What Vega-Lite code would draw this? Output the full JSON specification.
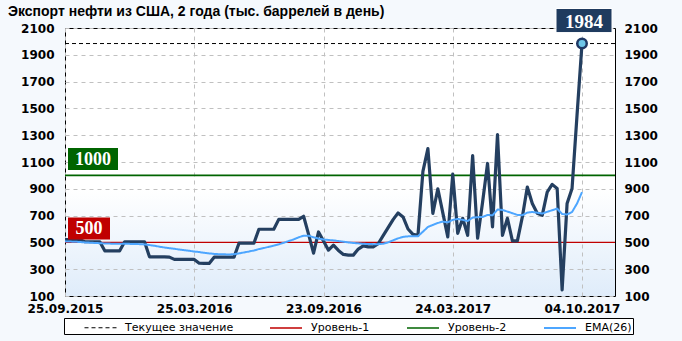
{
  "$schema": "https://vega.github.io/schema/vega-lite/v6.json",
  "width": 550,
  "height": 268,
  "autosize": {"type": "none"},
  "padding": {"left": 65, "top": 28, "right": 67, "bottom": 45},
  "background": "#f5f9fd",
  "title": {"text": "Экспорт нефти из США, 2 года (тыс. баррелей в день)", "anchor": "start", "frame": "group", "dx": -57, "dy": 21, "offset": 9, "font": "Liberation Sans", "fontSize": 14, "fontWeight": "bold", "color": "#000000"},
  "datasets": {
    "main": [
      {"d":"2015-09-25","exp":520,"ema":508},{"d":"2015-10-02","exp":520,"ema":506},{"d":"2015-10-09","exp":520,"ema":505},{"d":"2015-10-16","exp":520,"ema":503},{"d":"2015-10-23","exp":505,"ema":500},
      {"d":"2015-10-30","exp":505,"ema":498},{"d":"2015-11-06","exp":505,"ema":496},{"d":"2015-11-13","exp":505,"ema":494},{"d":"2015-11-20","exp":437,"ema":492},{"d":"2015-11-27","exp":437,"ema":491},
      {"d":"2015-12-04","exp":437,"ema":490},{"d":"2015-12-11","exp":437,"ema":489},{"d":"2015-12-18","exp":505,"ema":489},{"d":"2015-12-25","exp":505,"ema":489},{"d":"2016-01-01","exp":505,"ema":488},
      {"d":"2016-01-08","exp":505,"ema":487},{"d":"2016-01-15","exp":505,"ema":485},{"d":"2016-01-22","exp":392,"ema":480},{"d":"2016-01-29","exp":392,"ema":475},{"d":"2016-02-05","exp":392,"ema":468},
      {"d":"2016-02-12","exp":392,"ema":462},{"d":"2016-02-19","exp":390,"ema":457},{"d":"2016-02-26","exp":373,"ema":452},{"d":"2016-03-04","exp":373,"ema":447},{"d":"2016-03-11","exp":373,"ema":442},
      {"d":"2016-03-18","exp":373,"ema":437},{"d":"2016-03-25","exp":373,"ema":432},{"d":"2016-04-01","exp":345,"ema":428},{"d":"2016-04-08","exp":343,"ema":422},{"d":"2016-04-15","exp":343,"ema":418},
      {"d":"2016-04-22","exp":390,"ema":414},{"d":"2016-04-29","exp":390,"ema":412},{"d":"2016-05-06","exp":390,"ema":411},{"d":"2016-05-13","exp":390,"ema":410},{"d":"2016-05-20","exp":390,"ema":412},
      {"d":"2016-05-27","exp":494,"ema":418},{"d":"2016-06-03","exp":494,"ema":425},{"d":"2016-06-10","exp":494,"ema":432},{"d":"2016-06-17","exp":494,"ema":440},{"d":"2016-06-24","exp":598,"ema":450},
      {"d":"2016-07-01","exp":598,"ema":458},{"d":"2016-07-08","exp":598,"ema":467},{"d":"2016-07-15","exp":598,"ema":476},{"d":"2016-07-22","exp":672,"ema":486},{"d":"2016-07-29","exp":672,"ema":497},
      {"d":"2016-08-05","exp":672,"ema":510},{"d":"2016-08-12","exp":672,"ema":522},{"d":"2016-08-19","exp":672,"ema":538},{"d":"2016-08-26","exp":695,"ema":550},{"d":"2016-09-02","exp":560,"ema":550},
      {"d":"2016-09-09","exp":420,"ema":538},{"d":"2016-09-16","exp":578,"ema":528},{"d":"2016-09-23","exp":510,"ema":522},{"d":"2016-09-30","exp":442,"ema":518},{"d":"2016-10-07","exp":480,"ema":515},
      {"d":"2016-10-14","exp":440,"ema":510},{"d":"2016-10-21","exp":410,"ema":505},{"d":"2016-10-28","exp":405,"ema":500},{"d":"2016-11-04","exp":405,"ema":496},{"d":"2016-11-11","exp":450,"ema":493},
      {"d":"2016-11-18","exp":474,"ema":490},{"d":"2016-11-25","exp":467,"ema":488},{"d":"2016-12-02","exp":467,"ema":487},{"d":"2016-12-09","exp":490,"ema":487},{"d":"2016-12-16","exp":550,"ema":490},
      {"d":"2016-12-23","exp":610,"ema":500},{"d":"2016-12-30","exp":670,"ema":515},{"d":"2017-01-06","exp":720,"ema":530},{"d":"2017-01-13","exp":690,"ema":541},{"d":"2017-01-20","exp":600,"ema":545},
      {"d":"2017-01-27","exp":560,"ema":546},{"d":"2017-02-03","exp":553,"ema":546},{"d":"2017-02-10","exp":1030,"ema":580},{"d":"2017-02-17","exp":1200,"ema":615},{"d":"2017-02-24","exp":717,"ema":630},
      {"d":"2017-03-03","exp":900,"ema":645},{"d":"2017-03-10","exp":720,"ema":655},{"d":"2017-03-17","exp":541,"ema":650},{"d":"2017-03-24","exp":1010,"ema":668},{"d":"2017-03-31","exp":568,"ema":675},
      {"d":"2017-04-07","exp":680,"ema":668},{"d":"2017-04-14","exp":553,"ema":660},{"d":"2017-04-21","exp":1148,"ema":685},{"d":"2017-04-28","exp":531,"ema":688},{"d":"2017-05-05","exp":800,"ema":690},
      {"d":"2017-05-12","exp":1089,"ema":705},{"d":"2017-05-19","exp":615,"ema":702},{"d":"2017-05-26","exp":1304,"ema":745},{"d":"2017-06-02","exp":553,"ema":742},{"d":"2017-06-09","exp":680,"ema":730},
      {"d":"2017-06-16","exp":511,"ema":718},{"d":"2017-06-23","exp":511,"ema":705},{"d":"2017-06-30","exp":690,"ema":703},{"d":"2017-07-07","exp":913,"ema":722},{"d":"2017-07-14","exp":790,"ema":727},
      {"d":"2017-07-21","exp":717,"ema":722},{"d":"2017-07-28","exp":702,"ema":715},{"d":"2017-08-04","exp":875,"ema":728},{"d":"2017-08-11","exp":933,"ema":740},{"d":"2017-08-18","exp":903,"ema":752},
      {"d":"2017-08-25","exp":145,"ema":712},{"d":"2017-09-01","exp":791,"ema":708},{"d":"2017-09-08","exp":903,"ema":727},{"d":"2017-09-15","exp":1450,"ema":790},{"d":"2017-10-04","exp":1984,"ema":875}
    ],
    "levels": [
      {"series":"Текущее значение","val":1984},
      {"series":"Уровень-1","val":500},
      {"series":"Уровень-2","val":1000}
    ]
  },
  "layer": [
    {
      "data": {"name": "levels"},
      "mark": {"type": "rule"},
      "encoding": {
        "y": {"field": "val", "type": "quantitative", "scale": {"domain": [100, 2100], "nice": false, "zero": false},
              "axis": {"orient": "left", "values": [100,300,500,700,900,1100,1300,1500,1700,1900,2100], "format": "d", "grid": true, "labelPadding": 11}},
        "color": {"field": "series", "type": "nominal",
                  "scale": {"domain": ["Текущее значение","Уровень-1","Уровень-2","ema"], "range": ["#000000","#c00000","#006400","#4da6ff"]},
                  "legend": {"title": " ", "labelExpr": "datum.label == 'ema' ? 'EMA(26)      ' : datum.label"}},
        "strokeDash": {"field": "series", "type": "nominal",
                  "scale": {"domain": ["Текущее значение","Уровень-1","Уровень-2","ema"], "range": [[4,3],[1,0],[1,0],[1,0]]},
                  "legend": {"title": " ", "labelExpr": "datum.label == 'ema' ? 'EMA(26)      ' : datum.label"}},
        "strokeWidth": {"field": "series", "type": "nominal",
                  "scale": {"domain": ["Текущее значение","Уровень-1","Уровень-2","ema"], "range": [1,2,2,3.5]},
                  "legend": {"title": " ", "labelExpr": "datum.label == 'ema' ? 'EMA(26)      ' : datum.label"}}
      }
    },
    {
      "data": {"name": "main"},
      "mark": {"type": "line", "color": "#243f60", "strokeWidth": 3.2, "strokeJoin": "round"},
      "encoding": {
        "x": {"field": "d", "type": "ordinal", "scale": {"type": "point", "padding": 0, "range": [0, 517]},
              "axis": {"values": ["2015-09-25","2016-03-25","2016-09-23","2017-03-24","2017-10-04"], "grid": true, "labelAngle": 0, "labelOverlap": false, "labelPadding": 7,
                       "labelExpr": "slice(datum.value,8,10)+'.'+slice(datum.value,5,7)+'.'+slice(datum.value,0,4)"}},
        "y": {"field": "exp", "type": "quantitative", "scale": {"domain": [100, 2100], "nice": false, "zero": false},
              "axis": {"orient": "right", "values": [100,300,500,700,900,1100,1300,1500,1700,1900,2100], "format": "d", "grid": false, "labelPadding": 9, "labelAlign": "left"}}
      }
    },
    {
      "data": {"name": "main"},
      "transform": [{"fold": ["ema"], "as": ["series", "v"]}],
      "mark": {"type": "line", "strokeJoin": "round"},
      "encoding": {
        "x": {"field": "d", "type": "ordinal"},
        "y": {"field": "v", "type": "quantitative", "axis": null},
        "color": {"field": "series", "type": "nominal"},
        "strokeDash": {"field": "series", "type": "nominal"},
        "strokeWidth": {"field": "series", "type": "nominal"}
      }
    },
    {
      "data": {"name": "levels"},
      "transform": [{"filter": "datum.series == 'Уровень-1'"}],
      "mark": {"type": "point", "shape": "M-1,-0.524H1V0.524H-1Z", "filled": true, "opacity": 1, "color": "#c00000", "size": 1764, "xOffset": 24, "yOffset": -14},
      "encoding": {"x": {"datum": "2015-09-25", "type": "ordinal"}, "y": {"field": "val", "type": "quantitative", "axis": null}}
    },
    {
      "data": {"name": "levels"},
      "transform": [{"filter": "datum.series == 'Уровень-1'"}],
      "mark": {"type": "text", "font": "Liberation Serif", "fontWeight": "bold", "fontSize": 18, "color": "#ffffff", "align": "center", "baseline": "middle", "dx": 24, "dy": -13},
      "encoding": {"x": {"datum": "2015-09-25", "type": "ordinal"}, "y": {"field": "val", "type": "quantitative", "axis": null}, "text": {"field": "val"}}
    },
    {
      "data": {"name": "levels"},
      "transform": [{"filter": "datum.series == 'Уровень-2'"}],
      "mark": {"type": "point", "shape": "M-1,-0.44H1V0.44H-1Z", "filled": true, "opacity": 1, "color": "#006400", "size": 2500, "xOffset": 28, "yOffset": -16.5},
      "encoding": {"x": {"datum": "2015-09-25", "type": "ordinal"}, "y": {"field": "val", "type": "quantitative", "axis": null}}
    },
    {
      "data": {"name": "levels"},
      "transform": [{"filter": "datum.series == 'Уровень-2'"}],
      "mark": {"type": "text", "font": "Liberation Serif", "fontWeight": "bold", "fontSize": 18, "color": "#ffffff", "align": "center", "baseline": "middle", "dx": 28, "dy": -15.5},
      "encoding": {"x": {"datum": "2015-09-25", "type": "ordinal"}, "y": {"field": "val", "type": "quantitative", "axis": null}, "text": {"field": "val"}}
    },
    {
      "data": {"name": "levels"},
      "transform": [{"filter": "datum.series == 'Текущее значение'"}],
      "mark": {"type": "point", "shape": "M-1,-0.43H1V0.43H-1Z", "filled": true, "opacity": 1, "fill": "#1f3b5f", "stroke": "#ffffff", "strokeWidth": 1, "size": 3136, "xOffset": 2, "yOffset": -23},
      "encoding": {"x": {"datum": "2017-10-04", "type": "ordinal"}, "y": {"field": "val", "type": "quantitative", "axis": null}}
    },
    {
      "data": {"name": "levels"},
      "transform": [{"filter": "datum.series == 'Текущее значение'"}],
      "mark": {"type": "text", "font": "Liberation Serif", "fontWeight": "bold", "fontSize": 19, "color": "#ffffff", "align": "center", "baseline": "middle", "dx": 2, "dy": -22},
      "encoding": {"x": {"datum": "2017-10-04", "type": "ordinal"}, "y": {"field": "val", "type": "quantitative", "axis": null}, "text": {"field": "val"}}
    },
    {
      "data": {"name": "main"},
      "transform": [{"filter": "datum.d == '2017-10-04'"}],
      "mark": {"type": "point", "shape": "circle", "filled": true, "opacity": 1, "fill": "#6ec6e8", "stroke": "#1f3864", "strokeWidth": 2.5, "size": 90},
      "encoding": {"x": {"field": "d", "type": "ordinal"}, "y": {"field": "exp", "type": "quantitative", "axis": null}}
    }
  ],
  "resolve": {"axis": {"y": "independent"}},
  "config": {
    "view": {"stroke": "#000000", "strokeWidth": 1,
             "fill": {"gradient": "linear", "x1": 0, "y1": 0, "x2": 0, "y2": 1,
                      "stops": [{"offset": 0, "color": "#ffffff"}, {"offset": 0.6, "color": "#ffffff"}, {"offset": 1, "color": "#dfecfa"}]}},
    "axis": {"labelFont": "DejaVu Sans", "labelFontWeight": "bold", "labelFontSize": 12, "labelColor": "#000000",
             "ticks": false, "domain": false, "gridColor": "#c0c0c0", "gridDash": [4, 4], "gridWidth": 1, "title": null},
    "legend": {"orient": "none", "legendX": -1, "legendY": 290, "direction": "horizontal",
               "strokeColor": "#000000", "fillColor": "#ffffff", "padding": 1,
               "symbolType": "M-2,0H2", "symbolSize": 256, "labelFont": "DejaVu Sans", "labelFontSize": 11, "labelColor": "#000000",
               "labelOffset": 16, "columnPadding": 33, "titleOrient": "left", "titlePadding": 27, "titleFontSize": 11}
  }
}
